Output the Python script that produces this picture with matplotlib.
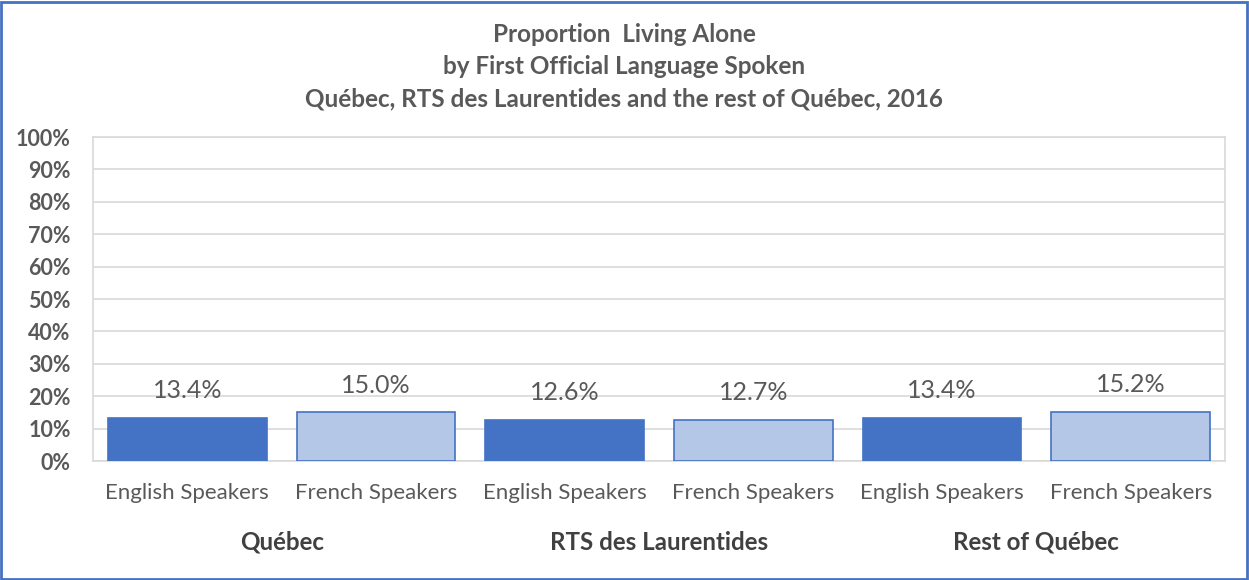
import numpy as np
import matplotlib.pyplot as plt
from matplotlib.patches import Rectangle

plt.rcParams['font.family'] = ['Lato', 'DejaVu Sans']

# Données
groupes = ['Québec', 'RTS des Laurentides', 'Rest of Québec']
categories = ['English Speakers', 'French Speakers']
valeurs = [[13.4, 15.0], [12.6, 12.7], [13.4, 15.2]]

gris = '#595959'
bleu = '#4472C4'
bleu_clair = '#B4C7E7'

fig = plt.figure(figsize=(12.49, 5.8), dpi=100)
ax = fig.add_axes([93 / 1249, 1 - 461 / 580, 1132 / 1249, 324 / 580])

x = np.arange(6)
vals = [v for g in valeurs for v in g]
couleurs = [bleu, bleu_clair] * 3
bars = ax.bar(x, vals, width=0.84, color=couleurs, edgecolor=bleu, linewidth=1.2, zorder=3)

# Étiquettes de données
for xi, v in zip(x, vals):
    ax.text(xi, v + 8.4, f'{v:.1f}%', ha='center', va='center', fontsize=18, color=gris)

ax.set_xlim(-0.5, 5.5)
ax.set_ylim(0, 100)
ax.set_yticks(np.arange(0, 101, 10))
ax.set_yticklabels([f'{t}%' for t in range(0, 101, 10)], fontsize=15.5, fontweight='bold', color=gris)
ax.yaxis.grid(True, color='#D9D9D9', linewidth=1.2, zorder=0)
ax.tick_params(axis='y', length=0, pad=16)
ax.set_xticks([])
for s in ax.spines.values():
    s.set_color('#D9D9D9')
    s.set_linewidth(1.2)

# Catégories et groupes
for xi in x:
    ax.text(xi, -10, categories[xi % 2], ha='center', va='center', fontsize=16,
            color=gris, clip_on=False)
for i, g in enumerate(groupes):
    ax.text(2 * i + 0.5, -25, g, ha='center', va='center', fontsize=17.4,
            fontweight='bold', color='#404040', clip_on=False)

# Titre
titre = ['Proportion  Living Alone', 'by First Official Language Spoken',
         'Québec, RTS des Laurentides and the rest of Québec, 2016']
for i, t in enumerate(titre):
    fig.text(624 / 1249, 1 - (35 + 32 * i) / 580, t, ha='center', va='center',
             fontsize=17.5, fontweight='bold', color=gris)

# Cadre
fig.patches.append(Rectangle((0.001, 0.002), 0.997, 0.995, transform=fig.transFigure,
                             fill=False, edgecolor=bleu, linewidth=2))

fig.savefig('out.png', dpi=100)
